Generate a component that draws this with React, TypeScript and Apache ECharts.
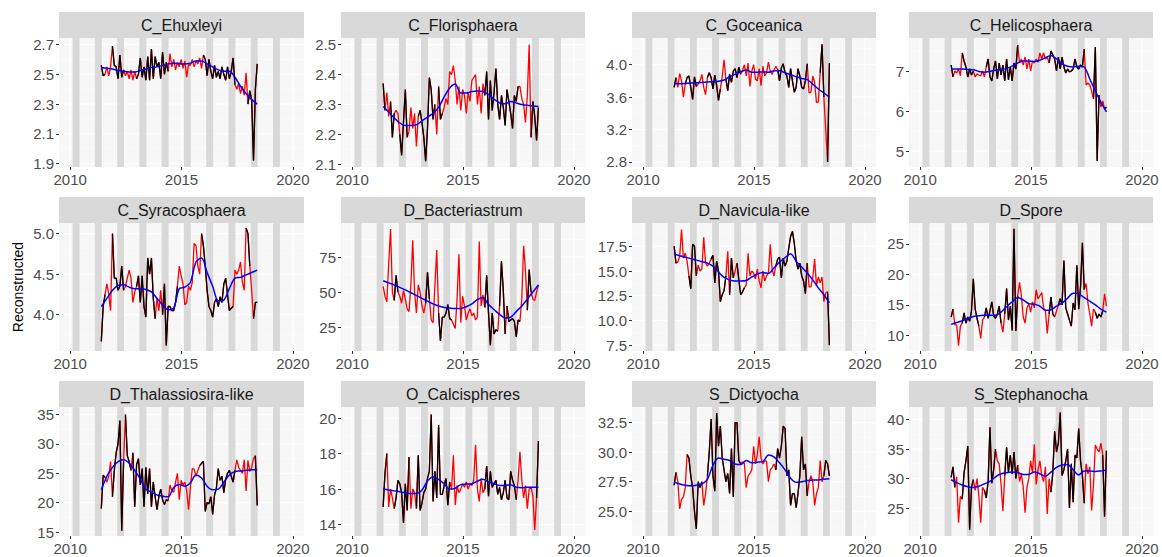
import React, { useEffect, useRef } from "react";
import * as echarts from "echarts";

// ---------- data ----------
const START = 2011.4; // first monthly sample (fractional year)
const SMOOTH_STEP = 0.25; // years between smooth-curve knots
const xTicks = [2010, 2015, 2020];
const xMinor = [2012.5, 2017.5];
const bandYears = [2010, 2011, 2012, 2013, 2014, 2015, 2016, 2017, 2018, 2019];
const bandStart = 0.11;
const bandEnd = 0.42;

const ehuxleyi = [2.56, 2.49, 2.5, 2.55, 2.49, 2.55, 2.69, 2.56, 2.55, 2.47, 2.63, 2.48,
  2.53, 2.49, 2.52, 2.47, 2.53, 2.46, 2.52, 2.47, 2.5, 2.61, 2.48, 2.55,
  2.46, 2.62, 2.46, 2.67, 2.47, 2.62, 2.55, 2.58, 2.47, 2.65, 2.5, 2.58,
  2.52, 2.64, 2.55, 2.6, 2.53, 2.58, 2.55, 2.6, 2.54, 2.59, 2.48, 2.57,
  2.56, 2.6, 2.55, 2.59, 2.57, 2.61, 2.54, 2.63, 2.6, 2.49, 2.6, 2.52,
  2.47, 2.56, 2.48, 2.52, 2.47, 2.55, 2.5, 2.46, 2.55, 2.47, 2.52, 2.61,
  2.43, 2.4, 2.44, 2.37, 2.42, 2.36, 2.51, 2.3, 2.39, 2.33, 1.92, 2.4, 2.57];
const ehuxleyiSmooth = [2.545, 2.54, 2.535, 2.525, 2.52, 2.515, 2.515, 2.525, 2.535, 2.545, 2.55, 2.56, 2.57, 2.575, 2.572,
  2.57, 2.575, 2.59, 2.59, 2.57, 2.55, 2.53, 2.52, 2.52, 2.48, 2.42, 2.37, 2.33, 2.3];
const ehuxleyiBlack = [[0, 2], [6, 12], [19, 36], [55, 72], [79, 84]];

const florisphaera = [2.37, 2.28, 2.34, 2.26, 2.31, 2.19, 2.27, 2.28, 2.27, 2.2, 2.13, 2.24,
  2.35, 2.19, 2.21, 2.29, 2.22, 2.27, 2.16, 2.26, 2.28, 2.24, 2.19, 2.11,
  2.22, 2.39, 2.35, 2.25, 2.3, 2.2, 2.36, 2.25, 2.27, 2.29, 2.32, 2.3,
  2.41, 2.4, 2.43, 2.38, 2.3, 2.36, 2.28, 2.35, 2.33, 2.27, 2.34, 2.31,
  2.38, 2.39, 2.4, 2.3, 2.36, 2.27, 2.37, 2.33, 2.41, 2.25, 2.38, 2.28,
  2.34, 2.42, 2.3, 2.25, 2.33, 2.29, 2.23, 2.35, 2.31, 2.27, 2.22, 2.33,
  2.31, 2.36, 2.36, 2.32, 2.3, 2.24, 2.33, 2.5, 2.19, 2.31, 2.26, 2.18, 2.29];
const florisphaeraSmooth = [2.293, 2.275, 2.255, 2.238, 2.23, 2.23, 2.232, 2.245, 2.258, 2.27, 2.29, 2.325, 2.355, 2.368, 2.338,
  2.338, 2.343, 2.345, 2.343, 2.333, 2.318, 2.305, 2.302, 2.31, 2.305, 2.3, 2.297, 2.295, 2.293];
const florisphaeraBlack = [[0, 1], [4, 6], [9, 13], [19, 28], [30, 32], [55, 73], [80, 84]];

const goceanica = [3.72, 3.84, 3.72, 3.89, 3.8, 3.6, 3.76, 3.84, 3.86, 3.72, 3.57, 3.85,
  3.73, 3.76, 3.8, 3.88, 3.72, 3.63, 3.84, 3.9, 3.84, 3.7, 3.87, 3.74,
  3.56, 3.7, 3.85, 4.06, 3.82, 3.68, 3.88, 3.78, 3.92, 3.95, 3.84, 3.97,
  3.88, 3.93, 4.0, 3.86, 4.02, 3.73, 3.92, 4.0, 3.82, 3.8, 3.95, 3.74,
  3.98, 3.86, 3.9, 4.03, 3.92, 3.88, 3.93, 3.98, 3.94, 3.8, 3.96, 4.01,
  3.9, 3.86, 3.72, 3.95, 3.8, 3.66, 3.72, 3.95, 3.86, 3.72, 3.7, 3.8,
  4.01, 3.65, 3.66, 3.86, 3.78, 3.53, 3.54, 3.9, 4.25, 3.6, 3.2, 2.8, 4.02];
const goceanicaSmooth = [3.765, 3.765, 3.768, 3.772, 3.775, 3.78, 3.785, 3.79, 3.795, 3.81, 3.85, 3.88, 3.91, 3.935, 3.905,
  3.905, 3.91, 3.905, 3.925, 3.925, 3.9, 3.875, 3.85, 3.83, 3.815, 3.76, 3.7, 3.65, 3.6];
const goceanicaBlack = [[0, 1], [6, 12], [18, 25], [28, 36], [56, 72], [79, 81], [83, 84]];

const helicosphaera = [7.15, 6.85, 7.0, 6.95, 7.05, 6.88, 7.45, 7.25, 7.1, 6.85, 7.05, 6.9,
  7.0, 6.85, 6.93, 6.9, 6.88, 7.0, 6.85, 7.1, 7.3, 6.85, 6.75, 7.05,
  7.25, 6.8, 7.2, 6.9, 7.15, 6.75, 7.3, 6.78, 7.1, 6.75, 7.2, 7.05,
  7.65, 7.2, 7.3, 7.15, 7.35, 7.05, 7.3, 7.0, 7.25, 7.2, 7.3, 7.22,
  7.45, 7.3, 7.45, 7.3, 7.35, 7.2, 7.5, 7.4, 7.3, 7.0, 7.35, 7.05,
  7.35, 7.1, 6.95, 7.05, 6.98, 7.0, 7.05, 7.3, 7.1, 7.05, 7.15, 7.1,
  7.55, 6.65, 6.7, 6.65, 6.5, 6.3, 7.6, 4.75, 6.4, 6.1, 6.25, 6.05, 6.1];
const helicosphaeraSmooth = [7.05, 7.05, 7.05, 7.04, 7.03, 6.99, 6.97, 6.99, 7.02, 7.04, 7.06, 7.12, 7.2, 7.25, 7.25,
  7.24, 7.27, 7.33, 7.39, 7.3, 7.18, 7.12, 7.1, 7.12, 7.1, 6.8, 6.5, 6.22, 5.98];
const helicosphaeraBlack = [[0, 1], [6, 12], [19, 36], [53, 72], [77, 80], [83, 84]];

const syracosphaera = [3.67, 4.1, 4.25, 4.38, 4.25, 4.05, 5.0, 4.45, 4.45, 4.3, 4.35, 4.6,
  4.3, 4.35, 4.45, 4.55, 4.45, 4.15, 4.28, 4.35, 4.48, 4.15, 4.48, 4.1,
  3.97, 4.7, 4.5, 4.7, 4.2, 3.95, 4.2, 4.05, 4.3, 4.0, 4.38, 3.62,
  4.1, 4.1, 4.05, 4.05, 4.15, 4.35, 4.6, 4.48, 4.38, 4.12, 4.15, 4.35,
  4.3, 4.4, 4.88, 4.85, 4.6, 4.5, 5.0, 4.85, 4.6, 4.3, 4.1, 4.05,
  3.97, 4.15, 4.2, 4.1, 4.22, 4.15, 4.38, 4.45, 4.25, 4.05, 4.08, 4.1,
  4.55, 4.5, 4.55, 4.65, 4.4, 4.3, 5.07, 5.0, 4.6, 4.3, 3.95, 4.15, 4.15];
const syracosphaeraSmooth = [4.1, 4.2, 4.3, 4.36, 4.37, 4.34, 4.32, 4.32, 4.31, 4.28, 4.2, 4.12, 4.06, 4.08, 4.32,
  4.34, 4.4, 4.65, 4.7, 4.52, 4.35, 4.17, 4.18, 4.32, 4.45, 4.46, 4.49, 4.52, 4.55];
const syracosphaeraBlack = [[0, 2], [6, 12], [19, 29], [33, 41], [54, 71], [78, 80], [82, 84]];

const bacteriastrum = [54, 47, 43, 70, 95, 50, 44, 62, 50, 47, 42, 51,
  45, 38, 36, 55, 87, 50, 35, 55, 50, 40, 35, 42,
  64, 45, 30, 28, 55, 80, 35, 15, 32, 32, 35, 41,
  31, 30, 27, 24, 45, 77, 28, 47, 40, 30, 35, 38,
  33, 35, 30, 32, 86, 40, 48, 39, 62, 35, 12, 35,
  20, 23, 22, 40, 72, 51, 20, 40, 29, 30, 31, 29,
  18, 30, 29, 45, 83, 65, 37, 66, 50, 45, 44, 50, 55];
const bacteriastrumSmooth = [58, 56.5, 55, 53.3, 51.5, 49.5, 47.5, 45.5, 43.5, 41.5, 40, 39, 38.5, 38.2, 38.3,
  39.5, 41.5, 44.5, 46, 41, 37.5, 34, 31.5, 32, 36, 40, 45, 50, 55];
const bacteriastrumBlack = [[6, 8], [23, 25], [30, 37], [55, 62], [63, 66], [67, 74], [78, 80]];

const navicula = [17.5, 15.8, 15.9, 16.5, 19.2, 16.3, 16.8, 16.0, 14.5, 13.2, 17.7, 17.5,
  14.5, 15.6, 15.0, 15.2, 18.4, 15.8, 15.5, 15.8, 16.2, 16.6, 13.8, 16.0,
  15.0, 11.9, 12.6, 13.0, 14.5, 17.0, 12.6, 16.3, 14.3, 15.0, 15.8, 14.1,
  12.6, 12.9, 13.3, 13.6, 16.8, 14.5, 15.0, 14.8, 14.2, 15.2, 14.0, 13.3,
  15.0, 14.0, 14.5, 14.8, 17.7, 15.2, 14.5, 15.5, 16.2, 16.4, 14.3, 16.3,
  15.5, 16.0, 17.3, 18.5, 19.0, 17.8, 16.0, 15.2, 15.8, 14.5, 14.0, 12.7,
  15.8, 13.4, 13.4, 14.3, 16.2, 13.5, 14.4, 13.8, 14.4, 11.9, 12.8, 12.9, 7.5];
const naviculaSmooth = [16.7, 16.55, 16.4, 16.25, 16.1, 15.95, 15.8, 15.5, 14.9, 14.35, 14.1, 14.0, 14.0, 14.05, 14.4,
  14.7, 14.85, 14.75, 15.3, 15.9, 16.35, 16.75, 16.0, 15.4, 14.8, 14.1, 13.3, 12.6, 11.8];
const naviculaBlack = [[0, 1], [8, 12], [20, 28], [30, 32], [34, 38], [55, 72], [83, 84]];

const spore = [13.0, 14.3, 11.7, 11.7, 8.3, 11.5, 12.0, 13.7, 12.0, 13.0, 12.3, 14.0,
  19.3, 14.3, 12.8, 11.5, 9.5, 12.5, 13.0, 14.5, 12.8, 14.0, 15.5, 13.2,
  12.8, 13.5, 14.8, 12.0, 10.5, 13.5, 17.7, 12.5, 14.8, 10.8, 27.5, 10.7,
  16.5, 18.7, 16.5, 13.0, 12.0, 14.5, 15.2, 13.8, 15.5, 14.5, 17.5, 16.0,
  16.5, 17.0, 14.5, 14.0, 10.3, 13.5, 16.3, 13.5, 13.0, 14.0, 15.0, 16.0,
  15.0, 22.3, 14.5, 13.5, 12.5, 11.5, 15.3, 14.2, 21.5, 14.3, 18.0, 25.2,
  17.5, 18.5, 15.3, 13.5, 11.5, 14.3, 13.8, 12.8, 13.5, 13.0, 14.0, 16.8, 14.8];
const sporeSmooth = [11.8, 12.1, 12.4, 12.8, 13.1, 13.2, 13.3, 13.3, 13.3, 13.8, 14.7, 15.5, 16.2, 15.8, 15.2,
  15.1, 14.8, 14.1, 14.2, 14.8, 15.3, 16.1, 16.9, 16.8, 16.2, 15.6, 15.0, 14.3, 13.8];
const sporeBlack = [[0, 1], [6, 15], [18, 27], [29, 36], [53, 56], [58, 72], [78, 82]];

const thalassiosira = [19.0, 24.7, 24.3, 23.5, 24.5, 27.0, 21.0, 25.5, 28.5, 30.0, 34.0, 15.2,
  27.0, 35.0, 28.0, 27.0, 25.5, 28.5, 19.3, 26.5, 27.5, 23.0, 25.8, 19.3,
  26.0, 21.5, 25.8, 19.3, 23.5, 21.0, 18.8, 21.0, 22.3, 20.5, 19.7, 20.5,
  20.3, 23.0, 22.0, 21.8, 23.5, 25.0, 20.5, 23.8, 23.0, 23.5, 22.0, 18.8,
  22.5, 25.8, 25.7, 24.5, 25.5, 26.3, 26.7, 27.0, 18.5, 20.0, 19.8, 21.0,
  18.0, 21.3, 22.5, 25.8, 23.8, 24.5, 21.7, 24.0, 25.0, 25.5, 24.5, 23.5,
  25.5, 27.3, 26.0, 25.5, 25.0, 27.3, 22.0, 27.2, 25.3, 26.0, 27.5, 28.0, 19.5];
const thalassiosiraSmooth = [22.2, 24.5, 26.0, 27.0, 27.3, 26.7, 25.5, 24.0, 22.3, 21.8, 21.3, 21.1, 21.0, 22.6, 23.1,
  22.8, 23.4, 24.7, 24.2, 22.8, 22.2, 22.3, 23.5, 24.7, 25.3, 25.4, 25.5, 25.6, 25.6];
const thalassiosiraBlack = [[0, 2], [6, 12], [13, 16], [17, 36], [53, 72], [83, 84]];

const calcispheres = [15.0, 16.9, 18.0, 15.0, 16.0, 15.5, 14.9, 15.5, 16.5, 16.3, 15.8, 14.1,
  16.3, 14.8, 17.8, 14.9, 16.0, 15.8, 14.9, 17.9, 14.8, 15.2, 15.8, 16.0,
  16.6, 17.0, 20.2, 15.3, 17.0, 15.5, 19.6, 15.7, 15.7, 16.2, 16.6, 15.1,
  16.4, 16.0, 17.9, 15.1, 16.2, 15.8, 16.0, 16.3, 16.1, 16.4, 16.0, 16.3,
  16.2, 16.5, 18.5, 16.0, 15.3, 16.6, 15.8, 16.0, 17.3, 15.6, 17.0, 16.1,
  16.3, 16.5, 15.7, 16.1, 15.4, 15.8, 16.5, 15.5, 15.4, 17.0, 16.5, 16.2,
  15.4, 16.5, 18.1, 16.5, 15.5, 16.2, 14.9, 16.0, 16.1, 15.6, 13.7, 15.5, 18.7];
const calcispheresSmooth = [16.0, 15.95, 15.9, 15.85, 15.8, 15.75, 15.75, 15.95, 16.45, 16.7, 16.55, 16.3, 16.0, 16.05, 16.25,
  16.28, 16.3, 16.45, 16.55, 16.4, 16.3, 16.2, 16.2, 16.25, 16.1, 16.08, 16.1, 16.1, 16.1];
const calcispheresBlack = [[0, 2], [6, 14], [18, 36], [55, 72], [83, 84]];

const dictyocha = [27.2, 28.3, 27.5, 25.2, 26.0, 26.2, 27.0, 29.8, 29.5, 28.0, 27.0, 25.0,
  23.5, 27.5, 27.0, 27.5, 25.5, 26.5, 28.0, 30.0, 32.8, 28.0, 26.7, 33.3,
  30.5, 32.2, 29.5, 28.5, 27.5, 28.2, 26.5, 30.3, 26.2, 32.5, 32.5, 29.3,
  29.0, 29.2, 29.0, 27.0, 28.0, 28.2, 28.5, 30.5, 29.0, 29.8, 31.3, 29.5,
  29.0, 29.3, 29.2, 27.5, 28.5, 28.7, 29.0, 28.5, 30.3, 29.5, 30.5, 32.2,
  32.0, 28.0, 28.5, 25.5, 26.5, 26.5, 25.3, 26.5, 28.0, 31.3, 28.5, 29.0,
  26.3, 27.5, 28.0, 27.5, 25.5, 26.5, 27.0, 29.3, 27.5, 28.0, 29.3, 29.0, 28.0];
const dictyochaSmooth = [27.45, 27.3, 27.2, 27.15, 27.2, 27.3, 27.7, 28.9, 29.5, 29.4, 29.3, 29.0, 28.95, 29.3, 29.1,
  29.15, 29.2, 29.75, 29.6, 29.1, 28.5, 27.8, 27.45, 27.5, 27.6, 27.65, 27.65, 27.7, 27.75];
const dictyochaBlack = [[0, 1], [7, 15], [18, 36], [55, 72], [81, 84]];

const stephanocha = [30.2, 32.0, 28.5, 30.3, 22.5, 27.0, 26.5, 31.0, 33.0, 35.5, 21.3, 28.5,
  29.8, 28.0, 30.0, 27.0, 22.5, 28.5, 28.0, 26.7, 29.5, 38.7, 29.2, 31.5,
  35.0, 33.0, 32.5, 29.0, 24.5, 30.5, 35.3, 31.0, 34.0, 30.8, 34.5, 30.0,
  32.3, 29.5, 30.8, 28.5, 24.2, 28.5, 30.0, 33.0, 31.0, 35.8, 29.0, 31.5,
  33.0, 30.5, 29.5, 32.0, 24.0, 30.0, 27.7, 31.0, 38.0, 34.5, 36.0, 41.2,
  30.5, 31.5, 33.0, 35.0, 25.0, 32.5, 26.0, 34.0, 33.5, 38.5, 33.0, 30.5,
  25.8, 32.5, 30.8, 32.0, 24.6, 29.0, 35.7, 35.0, 34.5, 36.0, 34.0, 23.5, 34.7];
const stephanochaSmooth = [29.8, 29.3, 28.9, 28.6, 28.5, 28.7, 29.1, 29.5, 30.3, 30.8, 31.0, 31.1, 31.0, 30.7, 30.7,
  31.1, 30.8, 30.4, 31.1, 31.9, 32.3, 32.4, 31.5, 30.6, 31.3, 31.3, 31.2, 31.3, 31.4];
const stephanochaBlack = [[0, 2], [6, 12], [18, 24], [29, 36], [54, 72], [82, 84]];

const panelNames = ["C_Ehuxleyi", "C_Florisphaera", "C_Goceanica", "C_Helicosphaera",
  "C_Syracosphaera", "D_Bacteriastrum", "D_Navicula-like", "D_Spore",
  "D_Thalassiosira-like", "O_Calcispheres", "S_Dictyocha", "S_Stephanocha"];
const panelValues = [ehuxleyi, florisphaera, goceanica, helicosphaera, syracosphaera, bacteriastrum,
  navicula, spore, thalassiosira, calcispheres, dictyocha, stephanocha];
const panelSmooth = [ehuxleyiSmooth, florisphaeraSmooth, goceanicaSmooth, helicosphaeraSmooth, syracosphaeraSmooth,
  bacteriastrumSmooth, naviculaSmooth, sporeSmooth, thalassiosiraSmooth, calcispheresSmooth, dictyochaSmooth, stephanochaSmooth];
const panelBlack = [ehuxleyiBlack, florisphaeraBlack, goceanicaBlack, helicosphaeraBlack, syracosphaeraBlack,
  bacteriastrumBlack, naviculaBlack, sporeBlack, thalassiosiraBlack, calcispheresBlack, dictyochaBlack, stephanochaBlack];
const panelYRange = [[1.877, 2.744], [2.091, 2.522], [2.738, 4.328], [4.6, 7.825],
  [3.551, 5.131], [7.86, 99.3], [6.92, 19.85], [7.42, 28.45],
  [14.32, 36.29], [13.36, 20.62], [22.91, 33.82], [20.25, 42.14]];
const panelTicks = [
  ["1.9", "2.1", "2.3", "2.5", "2.7"],
  ["2.1", "2.2", "2.3", "2.4", "2.5"],
  ["2.8", "3.2", "3.6", "4.0"],
  ["5", "6", "7"],
  ["4.0", "4.5", "5.0"],
  ["25", "50", "75"],
  ["7.5", "10.0", "12.5", "15.0", "17.5"],
  ["10", "15", "20", "25"],
  ["15", "20", "25", "30", "35"],
  ["14", "16", "18", "20"],
  ["25.0", "27.5", "30.0", "32.5"],
  ["25", "30", "35", "40"],
];

// ---------- layout ----------
const colLeft = [59, 341, 632, 909];
const colWidth = [245, 244, 244, 244];
const rowTop = [38, 223, 407];
const rowHeight = [129, 128, 129];
const stripH = 26;
const FONT = "Liberation Sans, Arial, Helvetica, sans-serif";

const BREAK = ["-", "-"];

function buildOption() {
  const grid: any[] = [];
  const xAxis: any[] = [];
  const yAxis: any[] = [];
  const series: any[] = [];
  const graphic: any[] = [];

  panelNames.forEach((name, i) => {
    const r = Math.floor(i / 4);
    const c = i % 4;
    const left = colLeft[c];
    const top = rowTop[r];
    const width = colWidth[c];
    const height = rowHeight[r];
    const [yMin, yMax] = panelYRange[i];
    const tickLabels = panelTicks[i];
    const tickVals = tickLabels.map(Number);
    const step = tickVals[1] - tickVals[0];
    const minorVals: number[] = [];
    for (let k = -1; k < tickVals.length; k++) {
      const v = tickVals[0] + (k + 0.5) * step;
      if (v > yMin && v < yMax) minorVals.push(v);
    }

    grid.push({ left, top, width, height, show: true, backgroundColor: "#F7F7F7", borderWidth: 0 });
    xAxis.push({
      type: "value", gridIndex: i, min: 2009.5, max: 2020.5,
      axisLine: { show: false },
      axisTick: { show: true, customValues: xTicks, length: 3, lineStyle: { color: "#333333", width: 1 } },
      axisLabel: { show: true, customValues: xTicks, color: "#4D4D4D", fontSize: 15, margin: 5, fontFamily: FONT,
        formatter: (v: number) => String(Math.round(v)) },
      splitLine: { show: false },
    });
    yAxis.push({
      type: "value", gridIndex: i, min: yMin, max: yMax,
      axisLine: { show: false },
      axisTick: { show: true, customValues: tickVals, length: 3, lineStyle: { color: "#333333", width: 1 } },
      axisLabel: { show: true, customValues: tickVals, color: "#4D4D4D", fontSize: 15, margin: 5, fontFamily: FONT,
        formatter: (v: number) => {
          const idx = tickVals.findIndex((t) => Math.abs(t - v) < 1e-6);
          return idx >= 0 ? tickLabels[idx] : "";
        } },
      splitLine: { show: false },
    });

    // grid lines
    const major: any[] = [];
    tickVals.forEach((v) => { major.push([2009.5, v], [2020.5, v], BREAK); });
    xTicks.forEach((v) => { major.push([v, yMin], [v, yMax], BREAK); });
    const minor: any[] = [];
    minorVals.forEach((v) => { minor.push([2009.5, v], [2020.5, v], BREAK); });
    xMinor.forEach((v) => { minor.push([v, yMin], [v, yMax], BREAK); });
    const base = { type: "line", xAxisIndex: i, yAxisIndex: i, showSymbol: false, symbol: "none", silent: true,
      connectNulls: false, animation: false };
    series.push({ ...base, name: "gridMajor" + i, data: major, z: 0.5, lineStyle: { color: "#FFFFFF", width: 1.1 } });
    series.push({ ...base, name: "gridMinor" + i, data: minor, z: 0.5, lineStyle: { color: "#FFFFFF", width: 0.5 } });

    const values = panelValues[i];
    const redData = values.map((v, k) => [START + k / 12, v]);
    const blackData: any[] = [];
    panelBlack[i].forEach(([a, b]) => {
      for (let k = a; k <= b; k++) blackData.push([START + k / 12, values[k]]);
      blackData.push(BREAK);
    });
    const blueData = panelSmooth[i].map((v, k) => [START + k * SMOOTH_STEP, v]);

    series.push({
      ...base, name: "red" + i, data: redData, z: 2,
      lineStyle: { color: "#FF0000", width: 1.3 },
      markArea: {
        silent: true,
        itemStyle: { color: "#D9D9D9", opacity: 1 },
        data: bandYears.map((y) => [{ xAxis: y + bandStart }, { xAxis: y + bandEnd }]),
      },
    });
    series.push({ ...base, name: "black" + i, data: blackData, z: 3, lineStyle: { color: "#000000", width: 1.3 } });
    series.push({ ...base, name: "blue" + i, data: blueData, z: 4, smooth: 0.3, lineStyle: { color: "#0000FF", width: 1.5 } });

    // facet strip
    graphic.push({
      type: "rect", shape: { x: left, y: top - stripH, width, height: stripH },
      style: { fill: "#D9D9D9" }, silent: true, z: 10,
    });
    graphic.push({
      type: "text", x: left + width / 2, y: top - stripH / 2, silent: true, z: 11,
      style: { text: name, fontSize: 16, fill: "#1A1A1A", align: "center", verticalAlign: "middle", fontFamily: FONT },
    });
  });

  graphic.push({
    type: "text", x: 18, y: 287, rotation: Math.PI / 2, silent: true,
    style: { text: "Reconstructed", fontSize: 14, fill: "#000000", align: "center", verticalAlign: "middle", fontFamily: FONT },
  });

  return { animation: false, backgroundColor: "#FFFFFF", grid, xAxis, yAxis, series, graphic };
}

export default function App() {
  const ref = useRef<HTMLDivElement>(null);
  useEffect(() => {
    if (!ref.current) return;
    const chart = echarts.init(ref.current, undefined, { renderer: "svg" });
    chart.setOption(buildOption() as any);
    return () => chart.dispose();
  }, []);
  return <div ref={ref} style={{ position: "absolute", left: 0, top: 0, width: 1162, height: 557 }} />;
}
